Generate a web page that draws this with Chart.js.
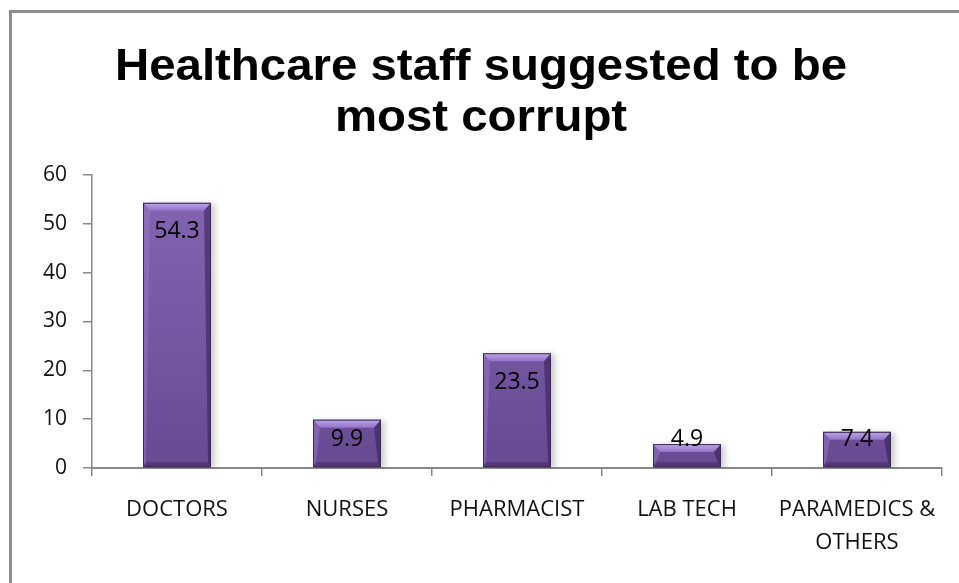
<!DOCTYPE html>
<html>
<head>
<meta charset="utf-8">
<title>Healthcare staff suggested to be most corrupt</title>
<script src="https://cdn.jsdelivr.net/npm/chart.js@4/dist/chart.umd.min.js"></script>
<style>
  html, body { margin: 0; padding: 0; background: #ffffff; }
  #wrap { width: 959px; height: 583px; position: relative; }
</style>
</head>
<body>
<div id="wrap"><canvas id="chart" width="959" height="583"></canvas></div>
<script>
// Survey results: share of respondents naming each staff group (%)
const categories = ['DOCTORS', 'NURSES', 'PHARMACIST', 'LAB TECH', ['PARAMEDICS &', 'OTHERS']];
const percentages = [54.3, 9.9, 23.5, 4.9, 7.4];
const titleLines = ['Healthcare staff suggested to be', 'most corrupt'];
const yMin = 0;
const yMax = 60;
const yStep = 10;

const AXIS_GREY = '#878787';
const TICK_FONT = 'Open Sans';

// White page with the grey frame along the top and left edges
const framePlugin = {
  id: 'frame',
  beforeDraw(chart) {
    const ctx = chart.ctx;
    ctx.save();
    ctx.fillStyle = '#ffffff';
    ctx.fillRect(0, 0, chart.width, chart.height);
    ctx.fillStyle = '#8c8c8c';
    ctx.fillRect(9, 10, chart.width - 9, 3);
    ctx.fillRect(9, 10, 3, chart.height - 10);
    ctx.restore();
  }
};

// Soft drop shadow to the right of each bar
const shadowPlugin = {
  id: 'barShadow',
  beforeDatasetsDraw(chart) {
    const ctx = chart.ctx;
    ctx.save();
    ctx.shadowColor = 'rgba(0,0,0,0.2)';
    ctx.shadowBlur = 6;
    ctx.shadowOffsetX = 4;
    ctx.shadowOffsetY = 1;
  },
  afterDatasetsDraw(chart) {
    chart.ctx.restore();
  }
};

// Bevelled edges on top of the flat bars
const bevelPlugin = {
  id: 'bevel',
  afterDatasetsDraw(chart) {
    const ctx = chart.ctx;
    const meta = chart.getDatasetMeta(0);
    meta.data.forEach((bar) => {
      const p = bar.getProps(['x', 'y', 'base', 'width'], true);
      const l = p.x - p.width / 2;
      const r = p.x + p.width / 2;
      const t = Math.min(p.y, p.base);
      const b = Math.max(p.y, p.base);
      const h = b - t;
      const bt = Math.min(8, h * 0.4);   // top bevel depth
      const bb = Math.min(5, h * 0.25);  // bottom bevel depth
      const s = 3;                       // side bevel width

      ctx.save();
      // top bevel
      let g = ctx.createLinearGradient(0, t, 0, t + bt);
      g.addColorStop(0, '#bca6e8');
      g.addColorStop(1, '#9272c6');
      ctx.fillStyle = g;
      ctx.beginPath();
      ctx.moveTo(l, t); ctx.lineTo(r, t);
      ctx.lineTo(r - s - 4, t + bt); ctx.lineTo(l + s + 4, t + bt);
      ctx.closePath(); ctx.fill();

      // left side
      ctx.fillStyle = 'rgba(150,120,200,0.5)';
      ctx.beginPath();
      ctx.moveTo(l, t); ctx.lineTo(l + s + 4, t + bt);
      ctx.lineTo(l + s, b - bb); ctx.lineTo(l, b);
      ctx.closePath(); ctx.fill();

      // right side
      ctx.fillStyle = 'rgba(50,30,80,0.55)';
      ctx.beginPath();
      ctx.moveTo(r, t); ctx.lineTo(r - s - 4, t + bt);
      ctx.lineTo(r - s, b - bb); ctx.lineTo(r, b);
      ctx.closePath(); ctx.fill();

      // bottom bevel
      ctx.fillStyle = 'rgba(60,38,95,0.5)';
      ctx.beginPath();
      ctx.moveTo(l, b); ctx.lineTo(r, b);
      ctx.lineTo(r - s, b - bb); ctx.lineTo(l + s, b - bb);
      ctx.closePath(); ctx.fill();

      // outline
      ctx.strokeStyle = '#3b2a55';
      ctx.lineWidth = 1;
      ctx.strokeRect(l + 0.5, t + 0.5, p.width - 1, h - 1);
      ctx.restore();
    });
  }
};

// Value labels inside the bar ends
const valueLabelPlugin = {
  id: 'valueLabels',
  afterDatasetsDraw(chart) {
    const ctx = chart.ctx;
    const meta = chart.getDatasetMeta(0);
    const values = chart.data.datasets[0].data;
    ctx.save();
    ctx.font = '23px "' + TICK_FONT + '"';
    ctx.fillStyle = '#000000';
    ctx.textAlign = 'center';
    ctx.textBaseline = 'middle';
    meta.data.forEach((bar, i) => {
      const p = bar.getProps(['x', 'y', 'base'], true);
      const cy = Math.min(p.y + 29, p.base - 28);
      ctx.fillText(String(values[i]), p.x, cy);
    });
    ctx.restore();
  }
};

// Two-line bold heading
const headingPlugin = {
  id: 'heading',
  afterDraw(chart) {
    const ctx = chart.ctx;
    ctx.save();
    ctx.font = 'bold 44px "Liberation Sans", Arial, sans-serif';
    ctx.fillStyle = '#000000';
    ctx.textAlign = 'center';
    ctx.textBaseline = 'alphabetic';
    const natural = ctx.measureText(titleLines[0]).width;
    const sx = 732 / natural;
    const cx = 481;
    const baselines = [80, 131];
    titleLines.forEach((line, i) => {
      ctx.save();
      ctx.translate(cx, baselines[i]);
      ctx.scale(sx, 1);
      ctx.fillText(line, 0, 0);
      ctx.restore();
    });
    ctx.restore();
  }
};

const ctx = document.getElementById('chart').getContext('2d');

new Chart(ctx, {
  type: 'bar',
  data: {
    labels: categories,
    datasets: [{
      data: percentages,
      backgroundColor(c) {
        const area = c.chart.chartArea;
        if (!area) return '#7457a0';
        const g = c.chart.ctx.createLinearGradient(0, area.top, 0, area.bottom);
        g.addColorStop(0, '#8466b4');
        g.addColorStop(1, '#684a93');
        return g;
      },
      borderWidth: 0,
      barPercentage: 0.4,
      categoryPercentage: 1.0
    }]
  },
  options: {
    responsive: false,
    animation: false,
    devicePixelRatio: 1,
    layout: { padding: { top: 175, left: 12, right: 17, bottom: 0 } },
    plugins: {
      legend: { display: false },
      title: { display: false },
      tooltip: { enabled: false }
    },
    scales: {
      x: {
        offset: true,
        grid: {
          display: true,
          drawOnChartArea: false,
          drawTicks: true,
          tickLength: 8,
          color: AXIS_GREY,
          lineWidth: 1.5,
          offset: true
        },
        border: { display: true, color: AXIS_GREY, width: 2 },
        ticks: {
          font: { family: TICK_FONT, size: 22, lineHeight: 1.5 },
          color: '#111111',
          padding: 17,
          maxRotation: 0,
          minRotation: 0,
          autoSkip: false
        },
        afterFit(scale) { scale.height = 115; }
      },
      y: {
        min: yMin,
        max: yMax,
        grid: {
          display: true,
          drawOnChartArea: false,
          drawTicks: true,
          tickLength: 9,
          color: AXIS_GREY,
          lineWidth: 1.5
        },
        border: { display: true, color: AXIS_GREY, width: 1.5 },
        ticks: {
          stepSize: yStep,
          font: { family: TICK_FONT, size: 21 },
          color: '#111111',
          padding: 16
        },
        afterFit(scale) { scale.width = 80; }
      }
    }
  },
  plugins: [framePlugin, shadowPlugin, bevelPlugin, valueLabelPlugin, headingPlugin]
});
</script>
</body>
</html>
